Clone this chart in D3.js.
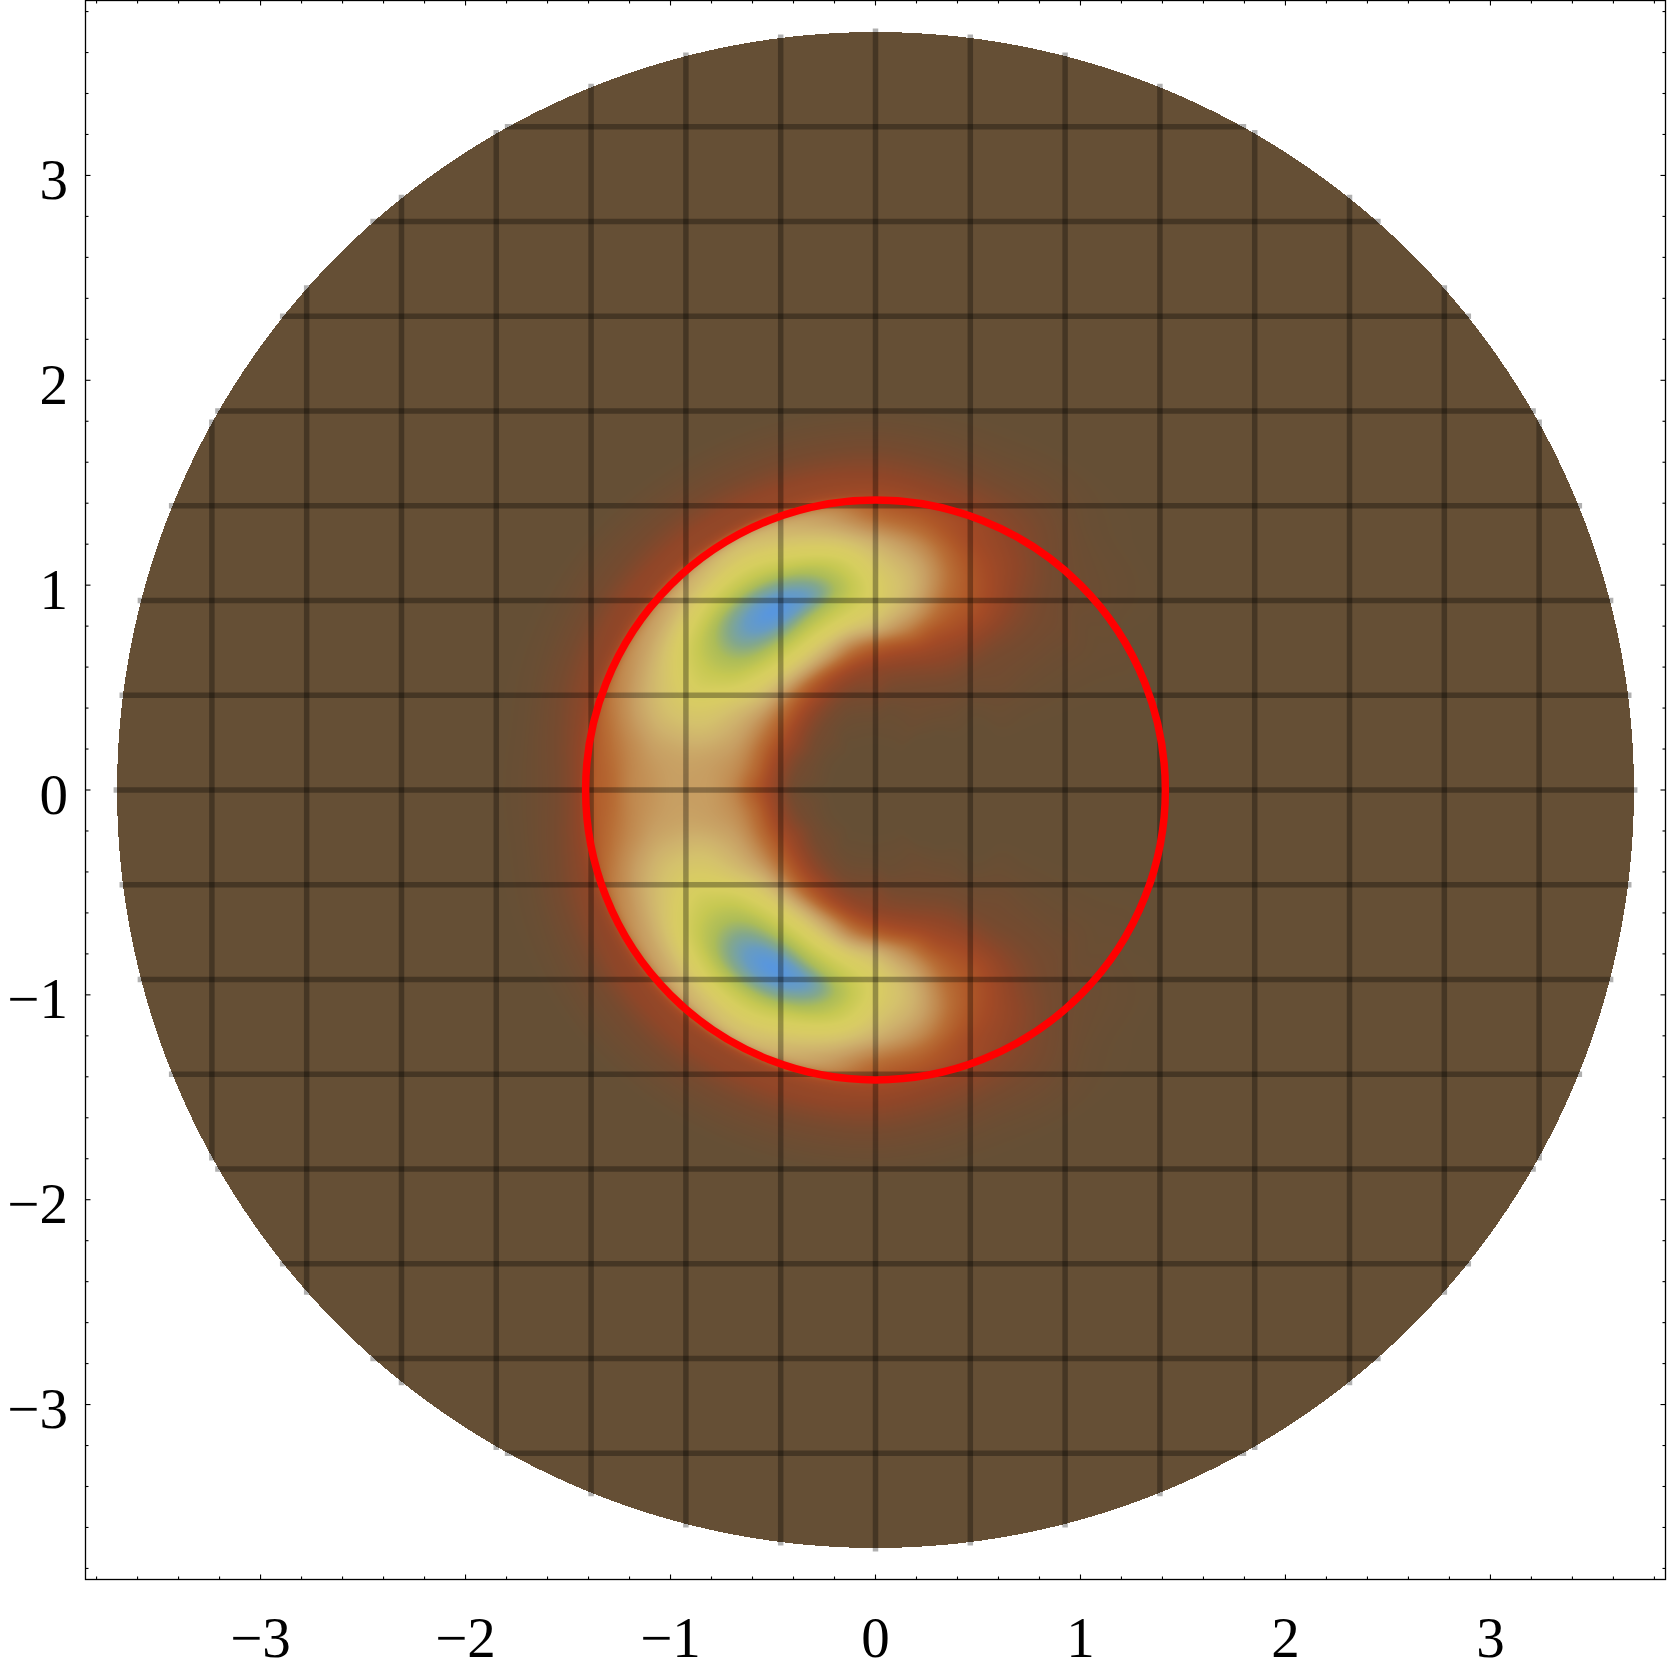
<!DOCTYPE html>
<html><head><meta charset="utf-8">
<script src="https://cdn.jsdelivr.net/npm/d3@7"></script>
<style>html,body{margin:0;padding:0;background:#fff;} svg{display:block;}</style>
</head><body>
<svg id="chart" width="1667" height="1675"></svg>
<script>
// ---------------- data ----------------
const xTickValues = [-3, -2, -1, 0, 1, 2, 3];
const yTickValues = [-3, -2, -1, 0, 1, 2, 3];
const tickLabels  = ["\u22123", "\u22122", "\u22121", "0", "1", "2", "3"];
const axisDomain  = [-3.854, 3.854];
const diskRadius  = 3.7;
const redCircleRadius = 1.4142;
const meshLines = [-3.2375, -2.775, -2.3125, -1.85, -1.3875, -0.925, -0.4625, 0,
                   0.4625, 0.925, 1.3875, 1.85, 2.3125, 2.775, 3.2375];

// density on a polar grid (upper half; plot is mirror symmetric in y)
const densityAngles = [0, 10, 20, 30, 40, 50, 60, 70, 80, 90, 100, 110, 120, 130, 140, 150, 160, 170, 180];
const densityRadii  = [0.3, 0.4, 0.5, 0.6, 0.7, 0.8, 0.9, 1.0, 1.1, 1.2, 1.3, 1.38, 1.45, 1.55, 1.65, 1.75];
const densityValues = [
  [0,0,0,0,0,0,0,0,0,0,0,0,0,0,0,0],
  [0,0,0,0,0,0,0,0,0,0,0,0,0,0,0,0],
  [0,0,0,0,0,0,0,0,0,0,0,0,0,0,0,0],
  [0,0,0,0,0.01,0.01,0.01,0.01,0.01,0.01,0.01,0.01,0,0,0,0],
  [0,0,0.01,0.01,0.02,0.03,0.03,0.03,0.03,0.03,0.02,0.02,0.015,0.01,0.005,0],
  [0,0.01,0.02,0.03,0.04,0.05,0.06,0.07,0.07,0.06,0.05,0.04,0.03,0.02,0.01,0.005],
  [0.01,0.02,0.03,0.05,0.08,0.11,0.14,0.16,0.15,0.13,0.11,0.09,0.07,0.05,0.03,0.015],
  [0.01,0.02,0.04,0.07,0.12,0.18,0.24,0.26,0.25,0.21,0.16,0.14,0.10,0.065,0.035,0.015],
  [0.01,0.02,0.05,0.09,0.17,0.32,0.42,0.45,0.42,0.34,0.24,0.18,0.12,0.08,0.045,0.02],
  [0.01,0.03,0.07,0.11,0.23,0.45,0.56,0.58,0.53,0.44,0.30,0.22,0.14,0.095,0.055,0.025],
  [0.01,0.03,0.07,0.14,0.30,0.52,0.68,0.76,0.70,0.56,0.42,0.33,0.15,0.10,0.055,0.025],
  [0.01,0.03,0.08,0.18,0.40,0.60,0.78,0.92,0.82,0.64,0.50,0.40,0.15,0.10,0.055,0.025],
  [0.01,0.04,0.10,0.22,0.46,0.66,0.85,1.00,0.88,0.70,0.55,0.44,0.15,0.10,0.055,0.025],
  [0.02,0.05,0.12,0.25,0.47,0.66,0.82,0.90,0.84,0.68,0.52,0.41,0.15,0.10,0.055,0.025],
  [0.02,0.06,0.14,0.27,0.45,0.60,0.72,0.76,0.72,0.60,0.46,0.36,0.14,0.095,0.05,0.025],
  [0.02,0.07,0.15,0.27,0.40,0.50,0.58,0.62,0.58,0.50,0.40,0.32,0.13,0.085,0.045,0.02],
  [0.02,0.06,0.14,0.26,0.37,0.44,0.49,0.50,0.48,0.42,0.34,0.27,0.12,0.075,0.04,0.015],
  [0.02,0.05,0.13,0.25,0.34,0.38,0.40,0.40,0.38,0.33,0.27,0.21,0.11,0.06,0.03,0.01],
  [0.01,0.04,0.12,0.22,0.32,0.37,0.38,0.38,0.35,0.31,0.24,0.20,0.10,0.05,0.025,0.01]
];

// colour ramp (value -> colour)
const colorStops = [0.00, 0.05, 0.10, 0.15, 0.20, 0.26, 0.32, 0.38, 0.44, 0.50, 0.56, 0.62, 0.70, 0.78, 0.85, 0.92, 1.00];
const colorHex   = ["#654f35", "#764a2f", "#8f4628", "#a34a26", "#af5828", "#b86e36", "#c0884e", "#c79e62",
                    "#ceb16c", "#d4c16c", "#d8cb64", "#d6ce5e", "#c6c852", "#acbc58", "#84a88a", "#689cc0", "#5896de"];

// ---------------- drawing ----------------
const W = 1667, H = 1675;
const svg = d3.select("#chart");
const x = d3.scaleLinear().domain(axisDomain).range([85.5, 1665.5]);
const y = d3.scaleLinear().domain(axisDomain).range([1579.5, 0.5]);

// colour LUT
const colorScale = d3.scaleLinear().domain(colorStops).range(colorHex).interpolate(d3.interpolateRgb).clamp(true);
const LUT = d3.range(1001).map(i => d3.rgb(colorScale(i / 1000)));

// interpolation helpers
const rNodes = [0.2, ...densityRadii, 1.9];
const grid = densityValues.map(row => [0, ...row, 0]);
const nA = densityAngles.length;
const aStep = densityAngles[1] - densityAngles[0];
function gv(ai, ri) {
  if (ai < 0) ai = -ai;
  if (ai > nA - 1) ai = 2 * (nA - 1) - ai;
  if (ri < 0 || ri >= rNodes.length) return 0;
  return grid[ai][ri];
}
function rIndex(r) {
  for (let i = 0; i < rNodes.length - 1; i++) {
    if (r <= rNodes[i + 1]) return i + (r - rNodes[i]) / (rNodes[i + 1] - rNodes[i]);
  }
  return rNodes.length - 1;
}
function cr(p0, p1, p2, p3, t) {
  return p1 + 0.5 * t * (p2 - p0 + t * (2 * p0 - 5 * p1 + 4 * p2 - p3 + t * (3 * (p1 - p2) + p3 - p0)));
}
function valueAt(dx, dy) {
  const r = Math.hypot(dx, dy);
  if (r <= rNodes[0] || r >= rNodes[rNodes.length - 1]) return 0;
  const th = Math.abs(Math.atan2(dy, dx)) * 180 / Math.PI;
  let u = th / aStep; let i0 = Math.floor(u); if (i0 >= nA - 1) i0 = nA - 2; const t = u - i0;
  const v = rIndex(r); let j0 = Math.floor(v); if (j0 >= rNodes.length - 1) j0 = rNodes.length - 2; const s = v - j0;
  const col = [];
  for (let k = -1; k <= 2; k++) {
    col.push(cr(gv(i0 - 1, j0 + k), gv(i0, j0 + k), gv(i0 + 1, j0 + k), gv(i0 + 2, j0 + k), t));
  }
  return cr(col[0], col[1], col[2], col[3], s);
}

// raster density into canvas
const canvas = document.createElement("canvas");
canvas.width = W; canvas.height = H;
const ctx = canvas.getContext("2d");
const img = ctx.createImageData(W, H);
const px0 = Math.floor(x(-diskRadius)) - 1, px1 = Math.ceil(x(diskRadius)) + 1;
const py0 = Math.floor(y(diskRadius)) - 1, py1 = Math.ceil(y(-diskRadius)) + 1;
for (let py = py0; py <= py1; py++) {
  for (let px = px0; px <= px1; px++) {
    const dx = x.invert(px + 0.5), dy = y.invert(py + 0.5);
    if (dx * dx + dy * dy > diskRadius * diskRadius) continue;
    let v = valueAt(dx, dy);
    v = Math.max(0, Math.min(1, v));
    const c = LUT[Math.round(v * 1000)];
    const idx = (py * W + px) * 4;
    img.data[idx] = c.r; img.data[idx + 1] = c.g; img.data[idx + 2] = c.b; img.data[idx + 3] = 255;
  }
}
ctx.putImageData(img, 0, 0);
svg.append("image").attr("x", 0).attr("y", 0).attr("width", W).attr("height", H)
  .attr("href", canvas.toDataURL());

// mesh lines
const ext = 3.5;
const mesh = svg.append("g").attr("stroke", "#000").attr("stroke-opacity", 0.31).attr("stroke-width", 5.5);
meshLines.forEach(c => {
  const h = Math.sqrt(diskRadius * diskRadius - c * c);
  mesh.append("line").attr("x1", x(c)).attr("x2", x(c)).attr("y1", y(h) - ext).attr("y2", y(-h) + ext);
  mesh.append("line").attr("y1", y(c)).attr("y2", y(c)).attr("x1", x(-h) - ext).attr("x2", x(h) + ext);
});

// red circle
svg.append("circle").attr("cx", x(0)).attr("cy", y(0)).attr("r", x(redCircleRadius) - x(0))
  .attr("fill", "none").attr("stroke", "#ff0000").attr("stroke-width", 7.5);

// frame
svg.append("rect").attr("x", x(axisDomain[0])).attr("y", y(axisDomain[1]))
  .attr("width", x(axisDomain[1]) - x(axisDomain[0])).attr("height", y(axisDomain[0]) - y(axisDomain[1]))
  .attr("fill", "none").attr("stroke", "#000").attr("stroke-width", 1.3);

// ticks (inward on all four sides)
const minor = d3.range(-19, 20).map(k => k / 5).filter(v => Math.abs(v - Math.round(v)) > 1e-6);
const tg = svg.append("g").attr("stroke", "#000").attr("stroke-width", 1.1);
const L = x(axisDomain[0]), R = x(axisDomain[1]), T = y(axisDomain[1]), B = y(axisDomain[0]);
function ticks(vals, len) {
  vals.forEach(v => {
    tg.append("line").attr("x1", x(v)).attr("x2", x(v)).attr("y1", B).attr("y2", B - len);
    tg.append("line").attr("x1", x(v)).attr("x2", x(v)).attr("y1", T).attr("y2", T + len);
    tg.append("line").attr("y1", y(v)).attr("y2", y(v)).attr("x1", L).attr("x2", L + len);
    tg.append("line").attr("y1", y(v)).attr("y2", y(v)).attr("x1", R).attr("x2", R - len);
  });
}
ticks(xTickValues, 5);
ticks(minor, 3);

// labels
const font = "'Liberation Serif', 'Times New Roman', serif";
svg.append("g").selectAll("text").data(xTickValues).join("text")
  .attr("x", d => x(d)).attr("y", 1657).attr("text-anchor", "middle")
  .attr("font-family", font).attr("font-size", 57).attr("fill", "#000")
  .text((d, i) => tickLabels[i]);
svg.append("g").selectAll("text").data(yTickValues).join("text")
  .attr("x", 68).attr("y", d => y(d) + 23.5).attr("text-anchor", "end")
  .attr("font-family", font).attr("font-size", 57).attr("fill", "#000")
  .text((d, i) => tickLabels[i]);
</script>
</body></html>
